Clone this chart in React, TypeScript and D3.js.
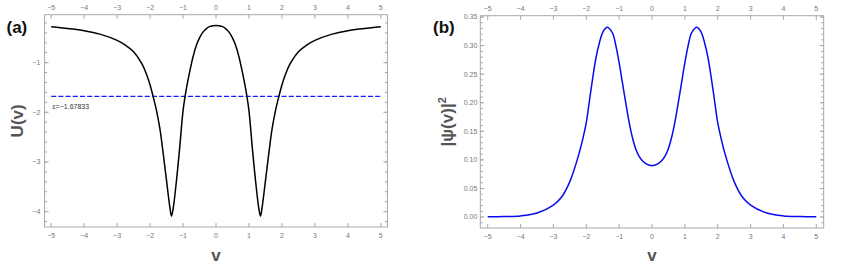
import React, { useEffect, useRef } from 'react';
import * as d3 from 'd3';

// sample points along v
const vValues = [-5, -4.5, -4, -3.5, -3, -2.75, -2.5, -2.25, -2.1, -2, -1.9, -1.8, -1.7, -1.6, -1.5, -1.4, -1.35, -1.3, -1.2, -1.1, -1, -0.9, -0.8, -0.7, -0.6, -0.5, -0.4, -0.3, -0.2, -0.1, 0, 0.1, 0.2, 0.3, 0.4, 0.5, 0.6, 0.7, 0.8, 0.9, 1, 1.1, 1.2, 1.3, 1.35, 1.4, 1.5, 1.6, 1.7, 1.8, 1.9, 2, 2.1, 2.25, 2.5, 2.75, 3, 3.5, 4, 4.5, 5];

// U(v)
const potential = [-0.275, -0.31, -0.355, -0.43, -0.55, -0.645, -0.78, -1.02, -1.25, -1.45, -1.7, -1.98, -2.34, -2.84, -3.38, -3.91, -4.09, -3.94, -3.38, -2.7, -1.97, -1.53, -1.19, -0.89, -0.66, -0.5, -0.39, -0.32, -0.275, -0.255, -0.25, -0.255, -0.275, -0.32, -0.39, -0.5, -0.66, -0.89, -1.19, -1.53, -1.97, -2.7, -3.38, -3.94, -4.09, -3.91, -3.38, -2.84, -2.34, -1.98, -1.7, -1.45, -1.25, -1.02, -0.78, -0.645, -0.55, -0.43, -0.355, -0.31, -0.275];

// |psi(v)|^2
const density = [0.0003, 0.0008, 0.002, 0.007, 0.021, 0.035, 0.062, 0.105, 0.138, 0.165, 0.205, 0.245, 0.28, 0.305, 0.323, 0.331, 0.332, 0.33, 0.322, 0.3, 0.27, 0.235, 0.2, 0.167, 0.14, 0.12, 0.107, 0.099, 0.094, 0.091, 0.09, 0.091, 0.094, 0.099, 0.107, 0.12, 0.14, 0.167, 0.2, 0.235, 0.27, 0.3, 0.322, 0.33, 0.332, 0.331, 0.323, 0.305, 0.28, 0.245, 0.205, 0.165, 0.138, 0.105, 0.062, 0.035, 0.021, 0.007, 0.002, 0.0008, 0.0003];

const energyLevel = -1.67833;

const vTicks = [-5, -4, -3, -2, -1, 0, 1, 2, 3, 4, 5];
const uTicks = [-1, -2, -3, -4];
const uMinor = d3.range(-4.2, -0.05, 0.2);
const psiTicks = [0, 0.05, 0.1, 0.15, 0.2, 0.25, 0.3, 0.35];
const psiMinor = d3.range(-0.01, 0.351, 0.01);

const fmtMinus = (n: number) => String(n).replace('-', '\u2212');
const FONT = 'Liberation Sans, Arial, sans-serif';

function drawPanel(svg: any, opt: any) {
  const { x, y, yTicks, yMinor, yFmt, labelGap } = opt;
  const [x0, x1] = x.range();
  const [y1, y0] = y.range();
  const g = svg.append('g');
  const axisColor = '#a8a8a8';

  g.append('rect')
    .attr('x', x0).attr('y', y0)
    .attr('width', x1 - x0).attr('height', y1 - y0)
    .attr('fill', 'none').attr('stroke', axisColor).attr('stroke-width', 1);

  // x ticks top and bottom, pointing in
  vTicks.forEach((t) => {
    const xx = x(t);
    g.append('line').attr('x1', xx).attr('x2', xx).attr('y1', y1).attr('y2', y1 - 4)
      .attr('stroke', axisColor);
    g.append('line').attr('x1', xx).attr('x2', xx).attr('y1', y0).attr('y2', y0 + 4)
      .attr('stroke', axisColor);
    g.append('text').attr('x', xx).attr('y', y1 + 10.5).text(fmtMinus(t))
      .attr('text-anchor', 'middle').attr('font-size', 7).attr('fill', '#777')
      .attr('font-family', FONT);
    g.append('text').attr('x', xx).attr('y', y0 - 4.5).text(fmtMinus(t))
      .attr('text-anchor', 'middle').attr('font-size', 7).attr('fill', '#777')
      .attr('font-family', FONT);
  });

  // minor y ticks
  yMinor.forEach((t: number) => {
    const yy = y(t);
    if (yy < y0 || yy > y1) return;
    g.append('line').attr('x1', x0).attr('x2', x0 + 2.5).attr('y1', yy).attr('y2', yy).attr('stroke', axisColor);
    g.append('line').attr('x1', x1).attr('x2', x1 - 2.5).attr('y1', yy).attr('y2', yy).attr('stroke', axisColor);
  });
  yTicks.forEach((t: number) => {
    const yy = y(t);
    g.append('line').attr('x1', x0).attr('x2', x0 + 4).attr('y1', yy).attr('y2', yy).attr('stroke', axisColor);
    g.append('line').attr('x1', x1).attr('x2', x1 - 4).attr('y1', yy).attr('y2', yy).attr('stroke', axisColor);
    g.append('text').attr('x', x0 - labelGap).attr('y', yy).attr('dy', '0.35em').text(yFmt(t))
      .attr('text-anchor', 'end').attr('font-size', 7).attr('fill', '#777')
      .attr('font-family', FONT);
  });

  return g;
}

export default function App() {
  const svgRef = useRef<SVGSVGElement>(null);

  useEffect(() => {
    const svg = d3.select(svgRef.current);
    svg.selectAll('*').remove();

    // ---- panel (a) ----
    const xa = d3.scaleLinear().domain([-5.2, 5.2]).range([44.6, 387.4]);
    const ya = d3.scaleLinear().domain([-4.31, -0.034]).range([227, 14.7]);
    const ga = drawPanel(svg, { x: xa, y: ya, yTicks: uTicks, yMinor: uMinor, yFmt: fmtMinus, labelGap: 4.3 });

    ga.append('line')
      .attr('x1', xa(-5)).attr('x2', xa(5))
      .attr('y1', ya(energyLevel)).attr('y2', ya(energyLevel))
      .attr('stroke', '#1a1aff').attr('stroke-width', 1.3).attr('stroke-dasharray', '5,2.2');

    ga.append('text').attr('x', 52.5).attr('y', ya(energyLevel) + 13)
      .text('\u03b5=\u22121.67833')
      .attr('font-size', 7).attr('fill', '#333')
      .attr('font-family', FONT);

    const lineA = d3.line<number>()
      .x((_, i) => xa(vValues[i]))
      .y((d) => ya(d))
      .curve(d3.curveCatmullRom.alpha(0.5));
    ga.append('path').datum(potential).attr('d', lineA)
      .attr('fill', 'none').attr('stroke', '#000').attr('stroke-width', 1.5);

    // ---- panel (b) ----
    const xb = d3.scaleLinear().domain([-5.225, 5.225]).range([480.3, 823.7]);
    const yb = d3.scaleLinear().domain([-0.0192, 0.3523]).range([228, 15.7]);
    const gb = drawPanel(svg, { x: xb, y: yb, yTicks: psiTicks, yMinor: psiMinor, yFmt: d3.format('.2f'), labelGap: 3 });

    const lineB = d3.line<number>()
      .x((_, i) => xb(vValues[i]))
      .y((d) => yb(d))
      .curve(d3.curveCatmullRom.alpha(0.5));
    gb.append('path').datum(density).attr('d', lineB)
      .attr('fill', 'none').attr('stroke', '#0a0aee').attr('stroke-width', 1.5);

    // labels
    svg.append('text').attr('x', 6.5).attr('y', 32.5).text('(a)')
      .attr('font-size', 17).attr('font-weight', 'bold').attr('font-family', FONT).attr('fill', '#111');
    svg.append('text').attr('x', 433).attr('y', 32.5).text('(b)')
      .attr('font-size', 17).attr('font-weight', 'bold').attr('font-family', FONT).attr('fill', '#111');

    svg.append('text').attr('transform', `translate(23,${(14.7 + 227) / 2}) rotate(-90)`)
      .attr('text-anchor', 'middle').text('U(v)')
      .attr('font-size', 17).attr('font-weight', 'bold').attr('font-family', FONT).attr('fill', '#555');
    svg.append('text').attr('transform', `translate(453,${(15.7 + 228) / 2}) rotate(-90)`)
      .attr('text-anchor', 'middle')
      .call((t: any) => {
        t.append('tspan').text('|\u03c8(v)|');
        t.append('tspan').text('2').attr('font-size', 11).attr('dy', -7);
      })
      .attr('font-size', 17).attr('font-weight', 'bold').attr('font-family', FONT).attr('fill', '#555');

    svg.append('text').attr('x', xa(0)).attr('y', 261).attr('text-anchor', 'middle').text('v')
      .attr('font-size', 17).attr('font-weight', 'bold').attr('font-family', FONT).attr('fill', '#555');
    svg.append('text').attr('x', xb(0)).attr('y', 261).attr('text-anchor', 'middle').text('v')
      .attr('font-size', 17).attr('font-weight', 'bold').attr('font-family', FONT).attr('fill', '#555');
  }, []);

  return (
    <div style={{ position: 'absolute', left: 0, top: 0 }}>
      <svg ref={svgRef} width={845} height={270} style={{ display: 'block', background: '#fff' }} />
    </div>
  );
}
